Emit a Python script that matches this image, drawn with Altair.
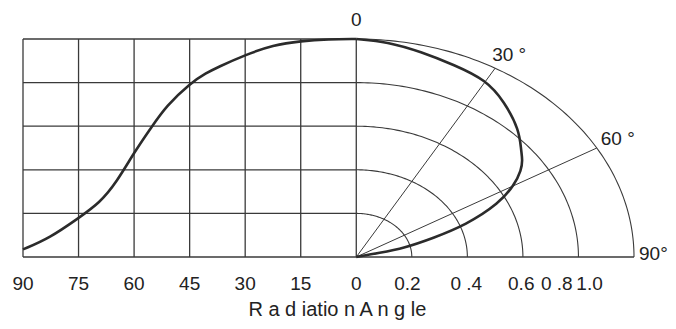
import altair as alt
import pandas as pd
import numpy as np

# ---- data ----
# left (cartesian) half: relative intensity vs radiation angle (deg)
cart_angle = [90, 82.8, 75, 69.3, 64.7, 59.9, 55.3, 51.3, 44.8, 40.5, 37.5, 30, 22.5, 14.9, 7.5, 0]
cart_value = [0.035, 0.087, 0.179, 0.248, 0.344, 0.482, 0.596, 0.693, 0.798, 0.844, 0.87, 0.927,
              0.972, 0.991, 0.999, 1.0]

# right (polar) half: radius vs angle from the vertical axis (deg)
polar_angle = [0, 6.45, 13.9, 21.84, 29.9, 36.8, 45.22, 50.39, 53.38, 56.11, 59.87, 64.44,
               69.61, 72.66, 76.56, 77.5, 78]
polar_r = [1.0, 0.994, 0.970, 0.949, 0.937, 0.890, 0.827, 0.770, 0.746, 0.716, 0.658, 0.571,
           0.421, 0.288, 0.178, 0.085, 0.0]

# grid / labels
left_ticks = [90, 75, 60, 45, 30, 15, 0]
left_tick_labels = ["90", "75", "60", "45", "30", "15", "0"]
radii = [0.2, 0.4, 0.6, 0.8, 1.0]
right_tick_labels = ["0.2", "0 .4", "0.6", "0 .8", "1.0"]
right_label_anchor = [0.184, 0.396, 0.594, 0.722, 0.84]
ray_angles = [30, 60]
title_text = "R a d iatio n A n g le"

# ---- build tables ----
DEG = np.pi / 180
XMIN = -1.2  # 90 deg on the left half
K = 90 / 1.2  # degrees per unit on the left half

cart_df = pd.DataFrame({"x": [-a / K for a in cart_angle], "y": cart_value,
                        "o": range(len(cart_angle))})
pol_df = pd.DataFrame({"x": [r * np.sin(a * DEG) for a, r in zip(polar_angle, polar_r)],
                       "y": [r * np.cos(a * DEG) for a, r in zip(polar_angle, polar_r)],
                       "o": range(len(polar_angle))})

vgrid = pd.DataFrame({"x": [-a / K for a in left_ticks], "y": 0.0, "y2": 1.0})
hgrid = pd.DataFrame({"y": radii, "x": XMIN, "x2": 0.0})
base = pd.DataFrame({"y": [0.0], "x": [XMIN], "x2": [1.0]})

arc_rows = []
for r in radii:
    for t in range(0, 91):
        arc_rows.append({"r": r, "t": t, "x": r * np.sin(t * DEG), "y": r * np.cos(t * DEG)})
arc_df = pd.DataFrame(arc_rows)

ray_df = pd.DataFrame({"x": 0.0, "y": 0.0,
                       "x2": [np.sin(a * DEG) for a in ray_angles],
                       "y2": [np.cos(a * DEG) for a in ray_angles]})

left_lab = pd.DataFrame({"x": [-a / K for a in left_ticks], "y": 0.0, "t": left_tick_labels})
right_lab = pd.DataFrame({"x": right_label_anchor, "y": 0.0, "t": right_tick_labels})

xs = alt.Scale(domain=[XMIN, 1.0], nice=False, zero=False)
ys = alt.Scale(domain=[0, 1], nice=False, zero=False)
X = alt.X("x:Q", scale=xs, axis=None)
Y = alt.Y("y:Q", scale=ys, axis=None)

GRID = "#3a3a3a"
FONT = "Liberation Sans"
TXT = "#222222"
FS = 19

vlines = alt.Chart(vgrid).mark_rule(color=GRID, strokeWidth=1.3).encode(x=X, y=Y, y2="y2")
hlines = alt.Chart(hgrid).mark_rule(color=GRID, strokeWidth=1.3).encode(x=X, x2="x2", y=Y)
baseline = alt.Chart(base).mark_rule(color=GRID, strokeWidth=1.3).encode(x=X, x2="x2", y=Y)
arcs = alt.Chart(arc_df).mark_line(color=GRID, strokeWidth=1.1).encode(
    x=X, y=Y, detail="r:N", order="t:Q")
rays = alt.Chart(ray_df).mark_rule(color=GRID, strokeWidth=1.0).encode(
    x=X, y=Y, x2="x2", y2="y2")

curve_l = alt.Chart(cart_df).mark_line(color="#2b2b2b", strokeWidth=2.6,
                                       interpolate="basis").encode(x=X, y=Y, order="o:Q")
curve_r = alt.Chart(pol_df).mark_line(color="#2b2b2b", strokeWidth=2.6,
                                      interpolate="basis").encode(x=X, y=Y, order="o:Q")


def txt(df, **kw):
    return alt.Chart(df).mark_text(font=FONT, color=TXT, baseline="alphabetic", **kw).encode(
        x=X, y=Y, text="t:N")


tl = txt(left_lab, fontSize=FS, dy=33, align="center")
tr = txt(right_lab, fontSize=FS, dy=33, align="center")
title = txt(pd.DataFrame({"x": [-0.068], "y": [0.0], "t": [title_text]}),
            fontSize=20, dy=59, align="center")

ang_lab = pd.DataFrame({
    "x": [0.0, np.sin(30 * DEG), np.sin(60 * DEG), 1.0],
    "y": [1.0, np.cos(30 * DEG), np.cos(60 * DEG), 0.0],
    "t": ["0", "30 °", "60 °", "90°"],
})
a0 = txt(ang_lab.iloc[[0]], fontSize=FS, dy=-13, align="center")
a30 = txt(ang_lab.iloc[[1]], fontSize=FS, dx=-3, dy=-7, align="left")
a60 = txt(ang_lab.iloc[[2]], fontSize=FS, dx=4, dy=-3, align="left")
a90 = txt(ang_lab.iloc[[3]], fontSize=FS, dx=5, dy=3, align="left")

chart = alt.layer(
    arcs, rays, vlines, hlines, baseline, curve_l, curve_r, tl, tr, title, a0, a30, a60, a90
).properties(
    width=611, height=218,
    autosize=alt.AutoSizeParams(type="none"),
    padding={"left": 15, "top": 31, "right": 34, "bottom": 64},
).configure_view(stroke=None)

chart.save("out.html", embed_options={"renderer": "svg", "actions": False})
